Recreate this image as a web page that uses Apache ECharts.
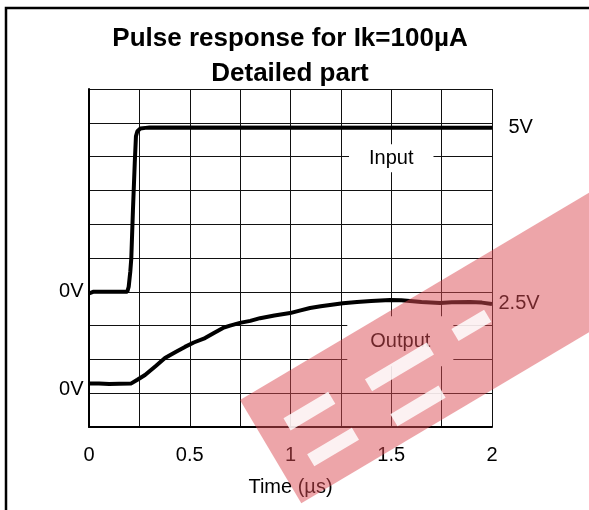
<!DOCTYPE html>
<html lang="en">

<head>
    <meta charset="UTF-8" />
    <title>Pulse response</title>
    <script src="https://cdn.jsdelivr.net/npm/echarts@6/dist/echarts.min.js"></script>
</head>
<style>
    * {
        margin: 0;
        padding: 0;
    }

    #main {
        width: 589px;
        height: 510px;
        background: #fff;
    }
</style>

<body>
    <div id="main"></div>
</body>
<script>
    // time in µs, level in grid divisions (10 divisions full height)
    const inputTime = [0, 0.02, 0.19, 0.197, 0.205, 0.21, 0.218, 0.227, 0.233, 0.24, 0.255, 0.28, 0.3, 2];
    const inputLevel = [3.95, 4.0, 4.0, 4.15, 4.6, 5.0, 6.4, 7.8, 8.6, 8.75, 8.83, 8.85, 8.86, 8.85];

    const outputTime = [0, 0.05, 0.1, 0.15, 0.21, 0.24, 0.278, 0.33, 0.377, 0.43, 0.476, 0.52, 0.576, 0.62, 0.665,
        0.7, 0.749, 0.8, 0.849, 0.92, 0.998, 1.05, 1.097, 1.15, 1.196, 1.26, 1.33, 1.4, 1.494, 1.55, 1.593, 1.65,
        1.742, 1.8, 1.891, 1.95, 2];
    const outputLevel = [1.29, 1.29, 1.27, 1.28, 1.29, 1.4, 1.54, 1.8, 2.04, 2.22, 2.37, 2.5, 2.63, 2.78, 2.93,
        3.0, 3.08, 3.14, 3.22, 3.3, 3.37, 3.45, 3.52, 3.57, 3.61, 3.66, 3.7, 3.73, 3.76, 3.75, 3.73, 3.7,
        3.67, 3.69, 3.7, 3.68, 3.64];

    const xTickLabels = ["0", "0.5", "1", "1.5", "2"];
    const inputLabels = ["0V", "5V"];
    const outputLabels = ["0V", "2.5V"];

    const font = "Liberation Sans";

    function zip(t, v) {
        return t.map((x, i) => [x, v[i]]);
    }

    // invisible point carrying a text label
    function textPoint(coord, label) {
        return { coord: coord, symbol: "circle", symbolSize: 1, itemStyle: { color: "rgba(0,0,0,0)" }, label: label };
    }

    // white gaps of the watermark letters, in the band's own frame
    function gap(x, y, w, h) {
        return {
            type: "rect", z: 101, zlevel: 1,
            shape: { x: x, y: y, width: w, height: h },
            style: { fill: "rgba(255,255,255,0.85)" },
        };
    }

    var myChart = echarts.init(document.getElementById("main"));
    var option = {
        backgroundColor: "#fff",
        animation: false,
        title: {
            text: "Pulse response for Ik=100µA\nDetailed part",
            left: 285,
            textAlign: "center",
            top: 16,
            textStyle: {
                fontFamily: font,
                fontSize: 26,
                fontWeight: "bold",
                color: "#000",
                lineHeight: 35,
            },
        },
        grid: { left: 89, top: 89, right: 97, bottom: 83 },
        xAxis: {
            type: "value",
            min: 0,
            max: 2,
            interval: 0.25,
            axisLine: { show: true, onZero: false, lineStyle: { color: "#000", width: 2 } },
            axisTick: { show: false },
            splitLine: { show: true, lineStyle: { color: "#111", width: 1 } },
            axisLabel: {
                margin: 18,
                fontFamily: font,
                fontSize: 20,
                color: "#000",
                formatter: function (v) {
                    let i = Math.round(v * 2);
                    return Math.abs(v * 2 - i) < 1e-6 ? xTickLabels[i] : "";
                },
            },
            name: "Time (µs)",
            nameLocation: "middle",
            nameGap: 50,
            nameTextStyle: { fontFamily: font, fontSize: 20, color: "#000" },
        },
        yAxis: {
            type: "value",
            min: 0,
            max: 10,
            interval: 1,
            axisLine: { show: true, lineStyle: { color: "#000", width: 2 } },
            axisTick: { show: false },
            axisLabel: { show: false },
            splitLine: { show: true, lineStyle: { color: "#111", width: 1 } },
        },
        series: [
            {
                name: "Input",
                type: "line",
                data: zip(inputTime, inputLevel),
                showSymbol: false,
                lineStyle: { color: "#000", width: 4 },
                markPoint: {
                    label: { show: true, fontFamily: font, fontSize: 20, color: "#000" },
                    data: [
                        textPoint([inputTime[0], inputLevel[1]],
                            { position: "left", distance: 5, formatter: inputLabels[0] }),
                        textPoint([inputTime[inputTime.length - 1], inputLevel[inputLevel.length - 1]],
                            { position: "right", distance: 16, formatter: inputLabels[1] }),
                        textPoint([1.5, 7.95],
                            { position: "inside", formatter: "Input", backgroundColor: "#fff", padding: [1, 20, 7, 20] }),
                    ],
                },
            },
            {
                name: "Output",
                type: "line",
                data: zip(outputTime, outputLevel),
                showSymbol: false,
                lineStyle: { color: "#000", width: 4 },
                markPoint: {
                    label: { show: true, fontFamily: font, fontSize: 20, color: "#000" },
                    data: [
                        textPoint([outputTime[0], outputLevel[0]],
                            { position: "left", distance: 5, offset: [0, 6], formatter: outputLabels[0] }),
                        textPoint([outputTime[outputTime.length - 1], outputLevel[outputLevel.length - 1]],
                            { position: "right", distance: 6, formatter: outputLabels[1] }),
                        textPoint([1.545, 2.54],
                            { position: "inside", formatter: "Output", backgroundColor: "#fff", padding: [20, 23, 10, 23] }),
                    ],
                },
                z: 3,
            },
        ],
        graphic: [
            {
                type: "rect",
                silent: true,
                shape: { x: 6, y: 8, width: 700, height: 700 },
                style: { fill: "none", stroke: "#000", lineWidth: 2.5 },
            },
            {
                // EEPW watermark band
                type: "group",
                silent: true,
                x: 240,
                y: 400,
                rotation: 0.536,
                children: [
                    {
                        type: "rect",
                        z: 100,
                        zlevel: 1,
                        shape: { x: 0, y: 0, width: 520, height: 120 },
                        style: { fill: "rgba(219,75,83,0.5)" },
                    },
                    gap(28, 38, 52, 14),
                    gap(30, 81, 52, 14),
                    gap(118, 46, 72, 14),
                    gap(122, 89, 56, 14),
                    gap(218, 47, 38, 14),
                ],
            },
        ],
    };
    option && myChart.setOption(option);
</script>

</html>
